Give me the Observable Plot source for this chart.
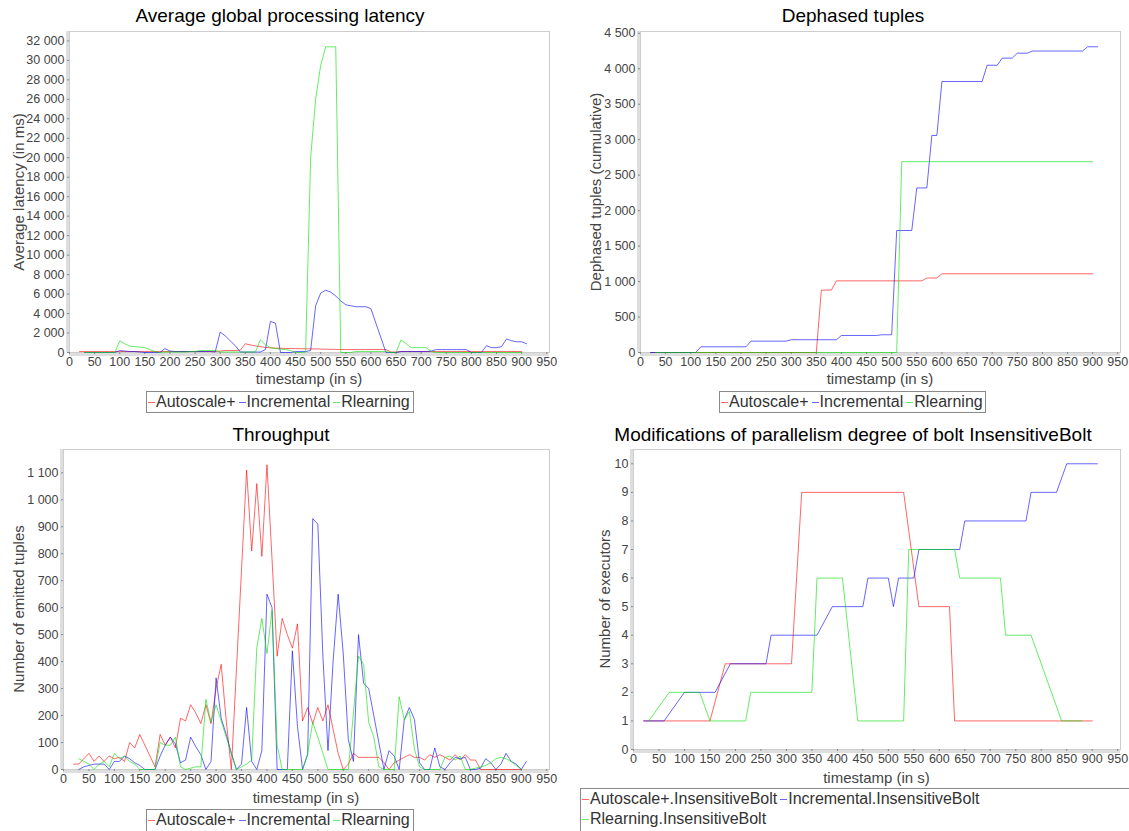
<!DOCTYPE html>
<html>
<head>
<meta charset="utf-8">
<script src="https://cdn.jsdelivr.net/npm/d3@7"></script>
<script src="https://cdn.jsdelivr.net/npm/@observablehq/plot@0.6"></script>
<style>
  body { margin: 0; background: #fff; }
  #root { position: relative; width: 1129px; height: 831px; overflow: hidden; background: #fff;
          font-family: "Liberation Sans", Arial, sans-serif; }
  .title { position: absolute; font-size: 19px; color: #000; white-space: nowrap; transform: translate(-50%, -50%); }
  .xlab { position: absolute; font-size: 15px; color: #444; white-space: nowrap; transform: translate(-50%, -50%); }
  .ylab { position: absolute; font-size: 15px; color: #444; white-space: nowrap; transform: translate(-50%, -50%) rotate(-90deg); }
  .legend { position: absolute; border: 1px solid #8a8a8a; box-sizing: border-box; font-size: 16px; color: #333;
            white-space: nowrap; line-height: 20px; }
  .legend .row { height: 20px; padding-left: 1px; }
  .legend .dash { display: inline-block; width: 7px; height: 0; border-top: 1px solid; vertical-align: middle; margin-right: 1px; }
  .legend .item { margin-right: 3px; }
</style>
</head>
<body>
<div id="root"></div>
<script>
// ---------------- DATA ----------------
const seriesNames = ["Autoscale+", "Incremental", "Rlearning"];
const seriesColors = ["#ff0000", "#0000ff", "#00e000"];
const xTicks = [0,50,100,150,200,250,300,350,400,450,500,550,600,650,700,750,800,850,900,950];

// Average global processing latency (ms)
const latencyAutoscale = [[20,100],[30,100],[40,100],[50,100],[60,100],[70,100],[80,100],[90,100],[100,100],[110,100],[120,100],[130,100],[140,100],[150,100],[160,100],[170,100],[180,100],[190,100],[200,100],[210,100],[220,100],[230,100],[240,100],[250,100],[260,100],[270,100],[280,100],[290,100],[300,150],[310,200],[320,200],[330,200],[340,250],[350,900],[360,780],[370,680],[380,600],[390,520],[400,480],[410,450],[420,430],[430,420],[440,410],[450,400],[460,390],[470,380],[480,370],[490,360],[500,350],[510,340],[520,330],[530,320],[540,310],[550,300],[560,300],[570,300],[580,300],[590,300],[600,300],[610,300],[620,300],[630,300],[640,50],[650,50],[660,100],[670,100],[680,100],[690,100],[700,100],[710,100],[720,100],[730,100],[740,100],[750,100],[760,100],[770,100],[780,100],[790,100],[800,100],[810,100],[820,100],[830,100],[840,100],[850,100],[860,100],[870,100],[880,100],[890,100],[900,100]];
const latencyIncremental = [[30,0],[40,0],[50,0],[60,0],[70,0],[80,0],[90,0],[100,200],[110,150],[120,100],[130,100],[140,50],[150,0],[160,0],[170,0],[180,0],[190,400],[200,150],[210,100],[220,100],[230,100],[240,100],[250,100],[260,100],[270,100],[280,100],[290,50],[300,2100],[310,1700],[320,1200],[330,700],[340,50],[350,50],[360,50],[370,50],[380,50],[390,300],[400,3200],[410,3000],[420,0],[430,0],[440,0],[450,100],[460,100],[470,100],[480,200],[490,4800],[500,6100],[510,6400],[520,6200],[530,5800],[540,5300],[550,4900],[560,4800],[570,4700],[580,4700],[590,4700],[600,4500],[610,3000],[620,1500],[630,0],[640,0],[650,0],[660,100],[670,100],[680,100],[690,100],[700,100],[710,100],[720,150],[730,300],[740,300],[750,300],[760,300],[770,300],[780,300],[790,300],[800,0],[810,0],[820,0],[830,700],[840,500],[850,500],[860,600],[870,1400],[880,1200],[890,1100],[900,1100],[910,900]];
const latencyRlearning = [[30,0],[40,0],[50,0],[60,0],[70,0],[80,0],[90,0],[100,1200],[110,900],[120,650],[130,600],[140,550],[150,500],[160,300],[170,100],[180,0],[190,50],[200,50],[210,50],[220,50],[230,50],[240,100],[250,100],[260,200],[270,200],[280,200],[290,200],[300,50],[310,50],[320,50],[330,50],[340,50],[350,50],[360,50],[370,50],[380,1300],[390,800],[400,500],[410,400],[420,350],[430,300],[440,200],[450,0],[460,0],[470,50],[480,20000],[490,26000],[500,29500],[510,31400],[520,31400],[530,31400],[540,0],[550,0],[560,0],[570,100],[580,100],[590,100],[600,100],[610,100],[620,100],[630,100],[640,0],[650,0],[660,1300],[670,900],[680,500],[690,500],[700,500],[710,500],[720,100],[730,0],[740,0],[750,0],[760,0],[770,0],[780,0],[790,0],[800,0],[810,0],[820,0],[830,0],[840,0],[850,0],[860,0],[870,0],[880,0],[890,0],[900,0]];
const latencyTicks = [0,2000,4000,6000,8000,10000,12000,14000,16000,18000,20000,22000,24000,26000,28000,30000,32000];

// Dephased tuples (cumulative)
const dephasedAutoscale = [[20,0],[350,0],[360,880],[380,880],[390,1010],[560,1010],[570,1050],[590,1050],[600,1110],[900,1110]];
const dephasedIncremental = [[20,0],[110,0],[120,80],[210,80],[220,160],[290,160],[300,180],[390,180],[400,240],[470,240],[480,250],[500,250],[510,1720],[540,1720],[550,2320],[570,2320],[580,3060],[590,3060],[600,3820],[680,3820],[690,4050],[710,4050],[720,4150],[740,4150],[750,4220],[770,4220],[780,4250],[880,4250],[890,4310],[910,4310]];
const dephasedRlearning = [[30,0],[510,0],[520,2690],[900,2690]];
const dephasedTicks = [0,500,1000,1500,2000,2500,3000,3500,4000,4500];

// Throughput (number of emitted tuples)
const throughputAutoscale = [[20,20],[30,20],[40,40],[50,60],[60,30],[70,50],[80,30],[90,50],[100,40],[110,45],[120,30],[130,100],[140,80],[150,130],[160,90],[170,50],[180,10],[190,130],[200,90],[210,120],[220,80],[230,190],[240,180],[250,240],[260,210],[270,170],[280,240],[290,170],[300,300],[310,390],[320,180],[330,0],[340,370],[350,740],[360,1110],[370,810],[380,1060],[390,790],[400,1130],[410,780],[420,420],[430,560],[440,500],[450,450],[460,540],[470,180],[480,230],[490,170],[500,230],[510,180],[520,240],[530,150],[540,60],[550,0],[560,20],[570,60],[580,45],[590,45],[600,45],[610,45],[620,45],[630,25],[640,0],[650,25],[660,35],[670,45],[680,55],[690,45],[700,45],[710,35],[720,55],[730,45],[740,55],[750,45],[760,35],[770,55],[780,35],[790,55],[800,35],[810,35],[820,0],[830,0],[840,0],[850,0],[860,0],[870,0],[880,0],[890,0],[900,0]];
const throughputIncremental = [[30,0],[40,10],[50,15],[60,20],[70,20],[80,20],[90,0],[100,30],[110,30],[120,50],[130,40],[140,25],[150,15],[160,0],[170,0],[180,0],[190,50],[200,90],[210,120],[220,95],[230,25],[240,35],[250,120],[260,85],[270,55],[280,0],[290,30],[300,340],[310,190],[320,130],[330,60],[340,0],[350,20],[360,230],[370,30],[380,0],[390,70],[400,650],[410,600],[420,0],[430,0],[440,0],[450,440],[460,160],[470,0],[480,55],[490,930],[500,910],[510,420],[520,70],[530,400],[540,650],[550,430],[560,110],[570,30],[580,500],[590,320],[600,300],[610,200],[620,100],[630,0],[640,70],[650,50],[660,0],[670,185],[680,230],[690,185],[700,25],[710,0],[720,0],[730,80],[740,10],[750,0],[760,25],[770,45],[780,40],[790,45],[800,0],[810,0],[820,5],[830,40],[840,25],[850,0],[860,20],[870,60],[880,30],[890,20],[900,0],[910,30]];
const throughputRlearning = [[30,40],[40,30],[50,20],[60,0],[70,20],[80,30],[90,10],[100,60],[110,40],[120,50],[130,30],[140,20],[150,0],[160,0],[170,0],[180,0],[190,100],[200,90],[210,90],[220,120],[230,10],[240,0],[250,5],[260,10],[270,10],[280,260],[290,175],[300,240],[310,180],[320,120],[330,60],[340,0],[350,10],[360,20],[370,35],[380,450],[390,560],[400,430],[410,590],[420,90],[430,0],[440,0],[450,0],[460,0],[470,0],[480,60],[490,175],[500,120],[510,60],[520,0],[530,0],[540,0],[550,0],[560,0],[570,210],[580,420],[590,390],[600,175],[610,120],[620,10],[630,0],[640,0],[650,0],[660,270],[670,185],[680,215],[690,75],[700,10],[710,0],[720,0],[730,0],[740,0],[750,45],[760,50],[770,35],[780,50],[790,0],[800,0],[810,5],[820,10],[830,15],[840,25],[850,40],[860,45],[870,40],[880,30],[890,15],[900,0]];
const throughputTicks = [0,100,200,300,400,500,600,700,800,900,1000,1100];

// Parallelism degree of bolt InsensitiveBolt (number of executors)
const parallelismNames = ["Autoscale+.InsensitiveBolt", "Incremental.InsensitiveBolt", "Rlearning.InsensitiveBolt"];
const parallelismAutoscale = [[20,1],[150,1],[180,3],[310,3],[330,9],[530,9],[560,5],[620,5],[630,1],[900,1]];
const parallelismIncremental = [[20,1],[60,1],[100,2],[160,2],[190,3],[260,3],[270,4],[360,4],[390,5],[450,5],[460,6],[500,6],[510,5],[520,6],[550,6],[560,7],[640,7],[650,8],[770,8],[780,9],[830,9],[850,10],[910,10]];
const parallelismRlearning = [[30,1],[70,2],[130,2],[150,1],[220,1],[230,2],[350,2],[360,6],[410,6],[440,1],[530,1],[540,7],[630,7],[640,6],[720,6],[730,4],[780,4],[840,1],[880,1]];
const parallelismTicks = [0,1,2,3,4,5,6,7,8,9,10];

// ---------------- RENDER ----------------
const FONT = '"Liberation Sans", Arial, sans-serif';
const root = document.getElementById("root");
const locale = d3.formatLocale({decimal: ",", thousands: "\u00a0", grouping: [3], currency: ["", ""]});
const fmtY = locale.format(",d");

function rows(list, names) {
  const out = [];
  list.forEach((pairs, i) => pairs.forEach(([t, v]) => out.push({t, v, s: names[i]})));
  return out;
}

function addDiv(cls, text, x, y) {
  const d = document.createElement("div");
  d.className = cls; d.textContent = text;
  d.style.left = x + "px"; d.style.top = y + "px";
  root.appendChild(d); return d;
}

function addLegend(x, y, w, h, names, lines) {
  const box = document.createElement("div");
  box.className = "legend";
  Object.assign(box.style, {left: x + "px", top: y + "px", width: w + "px", height: h + "px"});
  lines.forEach(idxs => {
    const row = document.createElement("div");
    row.className = "row";
    idxs.forEach(i => {
      const it = document.createElement("span"); it.className = "item";
      const dash = document.createElement("span"); dash.className = "dash";
      dash.style.borderTopColor = seriesColors[i]; dash.style.opacity = 0.6;
      it.appendChild(dash);
      it.appendChild(document.createTextNode(names[i]));
      row.appendChild(it);
    });
    box.appendChild(row);
  });
  root.appendChild(box);
}

function panel(cfg) {
  const data = rows(cfg.series, cfg.names);
  const ymax = d3.max(data, d => d.v) * 1.05;
  const xmax = d3.max(data, d => d.t) * 1.05;
  const chart = Plot.plot({
    width: cfg.w, height: cfg.h,
    marginLeft: cfg.mL, marginRight: cfg.mR, marginTop: cfg.mT, marginBottom: cfg.mB,
    style: {fontFamily: FONT, fontSize: "12.5px", color: "#444", background: "transparent", overflow: "visible"},
    x: {domain: [0, xmax]},
    y: {domain: [0, ymax]},
    color: {domain: cfg.names, range: seriesColors},
    marks: [
      Plot.frame({stroke: "#cdcdcd"}),
      Plot.ruleY([0], {stroke: "#dedede", strokeWidth: 3, dy: 2}),
      Plot.ruleX([0], {stroke: "#dedede", strokeWidth: 3, dx: -2}),
      Plot.axisX({ticks: cfg.xticks, tickFormat: d => String(d), tickSize: 2, tickPadding: 3, stroke: "#888", label: null, fill: "#444"}),
      Plot.axisY({ticks: cfg.yticks, tickFormat: fmtY, tickSize: 2, tickPadding: 3, stroke: "#888", label: null, fill: "#444"}),
      Plot.line(data, {x: "t", y: "v", z: "s", stroke: "s", strokeWidth: 1, strokeOpacity: 0.6})
    ]
  });
  chart.style.position = "absolute";
  chart.style.left = cfg.x + "px";
  chart.style.top = cfg.y + "px";
  root.appendChild(chart);
  addDiv("title", cfg.title, cfg.titleX, cfg.titleY);
  addDiv("ylab", cfg.ylabel, cfg.ylabX, cfg.y + cfg.mT + (cfg.h - cfg.mT - cfg.mB) / 2);
  addDiv("xlab", cfg.xlabel, cfg.x + cfg.mL + (cfg.w - cfg.mL - cfg.mR) / 2, cfg.xlabY);
}

panel({
  x: 0, y: 0, w: 565, h: 400, mL: 69, mR: 16, mT: 31, mB: 48,
  series: [latencyAutoscale, latencyIncremental, latencyRlearning], names: seriesNames,
  xticks: xTicks, yticks: latencyTicks,
  title: "Average global processing latency", titleX: 280, titleY: 16,
  ylabel: "Average latency (in ms)", ylabX: 18, xlabel: "timestamp (in s)", xlabY: 378
});
addLegend(146, 391, 268, 22, seriesNames, [[0, 1, 2]]);

panel({
  x: 565, y: 0, w: 564, h: 400, mL: 75, mR: 9, mT: 31, mB: 48,
  series: [dephasedAutoscale, dephasedIncremental, dephasedRlearning], names: seriesNames,
  xticks: xTicks, yticks: dephasedTicks,
  title: "Dephased tuples", titleX: 853, titleY: 16,
  ylabel: "Dephased tuples (cumulative)", ylabX: 595, xlabel: "timestamp (in s)", xlabY: 378
});
addLegend(719, 391, 267, 22, seriesNames, [[0, 1, 2]]);

panel({
  x: 0, y: 420, w: 565, h: 400, mL: 63, mR: 16, mT: 29, mB: 51,
  series: [throughputAutoscale, throughputIncremental, throughputRlearning], names: seriesNames,
  xticks: xTicks, yticks: throughputTicks,
  title: "Throughput", titleX: 281, titleY: 435,
  ylabel: "Number of emitted tuples", ylabX: 18, xlabel: "timestamp (in s)", xlabY: 797
});
addLegend(146, 809, 268, 24, seriesNames, [[0, 1, 2]]);

panel({
  x: 565, y: 420, w: 564, h: 400, mL: 68, mR: 9, mT: 29, mB: 71,
  series: [parallelismAutoscale, parallelismIncremental, parallelismRlearning], names: parallelismNames,
  xticks: xTicks, yticks: parallelismTicks,
  title: "Modifications of parallelism degree of bolt InsensitiveBolt", titleX: 853, titleY: 435,
  ylabel: "Number of executors", ylabX: 604, xlabel: "timestamp (in s)", xlabY: 777
});
addLegend(580, 788, 560, 50, parallelismNames, [[0, 1], [2]]);
</script>
</body>
</html>
